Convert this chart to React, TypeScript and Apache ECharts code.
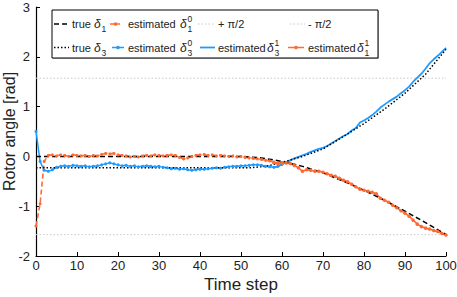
import React, { useEffect, useRef } from "react";
import * as echarts from "echarts";

// ---------- data ----------
const xTicks = [0, 10, 20, 30, 40, 50, 60, 70, 80, 90, 100];
const yTicks = [-2, -1, 0, 1, 2, 3];

// true trajectories: [time step, angle]
const trueD1: number[][] = [
  [0, 0], [50, 0], [55, -0.03], [60, -0.1], [65, -0.2], [70, -0.33], [75, -0.5],
  [80, -0.68], [85, -0.88], [90, -1.1], [95, -1.33], [100, -1.57],
];
const trueD3: number[][] = [
  [0, -0.23], [52, -0.23], [56, -0.2], [60, -0.12], [65, 0.0], [70, 0.15], [75, 0.4],
  [80, 0.66], [85, 0.95], [90, 1.27], [95, 1.65], [100, 2.15],
];

// estimated δ1^0, steps 0..60
const estD1_0Start = 0;
const estD1_0 = [
  -1.4, -0.95, -0.1, 0.02, 0.03, 0.01, 0.03, 0.02, 0.0, 0.03,
  0.02, 0.01, 0.02, 0.0, 0.02, 0.01, 0.04, 0.06, 0.05, 0.06,
  0.03, 0.02, 0.01, -0.01, 0.0, -0.01, 0.01, 0.02, 0.01, 0.03,
  0.02, 0.01, 0.02, 0.03, 0.02, -0.02, -0.05, -0.03, 0.0, 0.02,
  0.03, 0.04, 0.02, 0.03, 0.01, 0.02, 0.01, 0.0, 0.01, -0.01,
  0.0, -0.02, -0.03, -0.04, -0.05, -0.06, -0.08, -0.09, -0.12, -0.15,
  -0.13,
];

// estimated δ3^0, steps 0..60
const estD3_0Start = 0;
const estD3_0 = [
  0.5, -0.1, -0.28, -0.3, -0.27, -0.22, -0.2, -0.19, -0.2, -0.18,
  -0.19, -0.2, -0.19, -0.21, -0.2, -0.19, -0.17, -0.15, -0.13, -0.15,
  -0.17, -0.19, -0.18, -0.2, -0.19, -0.21, -0.2, -0.19, -0.2, -0.21,
  -0.2, -0.22, -0.23, -0.25, -0.24, -0.26, -0.25, -0.27, -0.28, -0.27,
  -0.26, -0.26, -0.25, -0.24, -0.23, -0.24, -0.22, -0.21, -0.2, -0.2,
  -0.19, -0.19, -0.18, -0.17, -0.17, -0.18, -0.2, -0.21, -0.22, -0.2,
  -0.16,
];

// estimated δ3^1, steps 58..100
const estD3_1Start = 58;
const estD3_1 = [
  -0.22, -0.2, -0.16, -0.12, -0.08, -0.04, -0.01, 0.02, 0.05, 0.09,
  0.12, 0.15, 0.17, 0.21, 0.26, 0.31, 0.36, 0.41, 0.45, 0.52,
  0.57, 0.68, 0.72, 0.77, 0.83, 0.9, 0.98, 1.04, 1.1, 1.15,
  1.2, 1.27, 1.33, 1.4, 1.5, 1.58, 1.66, 1.76, 1.87, 1.95,
  2.02, 2.1, 2.18,
];

// estimated δ1^1, steps 58..100
const estD1_1Start = 58;
const estD1_1 = [
  -0.12, -0.14, -0.13, -0.13, -0.14, -0.18, -0.23, -0.3, -0.27, -0.28,
  -0.3, -0.3, -0.32, -0.35, -0.38, -0.4, -0.44, -0.48, -0.51, -0.56,
  -0.61, -0.66, -0.68, -0.7, -0.72, -0.75, -0.84, -0.88, -0.92, -0.98,
  -1.03, -1.09, -1.14, -1.2, -1.28, -1.36, -1.41, -1.44, -1.46, -1.49,
  -1.51, -1.55, -1.58,
];

const halfPi = Math.PI / 2;
const piLinesX = [0, 100];

// ---------- styles ----------
const ORANGE = "#FF6A33";
const BLUE = "#1E9BFF";
const FONT = "Liberation Sans, Arial, Helvetica, sans-serif";
const TXT = "#222";

const toPairs = (start: number, arr: number[]) => arr.map((v, i) => [start + i, v]);

function legendGraphic() {
  const els: any[] = [];
  const r1 = 24;
  const r2 = 47.5;
  const fs = 11;
  const text = (x: number, y: number, s: string, size = fs, italic = false) =>
    els.push({
      type: "text",
      x,
      y,
      style: {
        text: s,
        font: `${italic ? "italic " : ""}${size}px ${FONT}`,
        fill: TXT,
        textVerticalAlign: "middle",
      },
    });
  const seg = (x1: number, x2: number, y: number, color: string, width: number, dash?: number[]) =>
    els.push({
      type: "line",
      shape: { x1, y1: y, x2, y2: y },
      style: { stroke: color, lineWidth: width, lineDash: dash },
    });
  const dot = (x: number, y: number, color: string) =>
    els.push({ type: "circle", shape: { cx: x, cy: y, r: 1.8 }, style: { fill: color } });
  const delta = (x: number, y: number, sub: string, sup?: string) => {
    text(x, y, "δ", 12, true);
    text(x + 7.5, y + 5, sub, 8.5);
    if (sup !== undefined) text(x + 7.5, y - 5, sup, 8.5);
  };

  // box with faint shadow
  els.push({ type: "rect", shape: { x: 53, y: 11, width: 326, height: 48 }, style: { fill: "#bbb" } });
  els.push({
    type: "rect",
    shape: { x: 52, y: 10, width: 326, height: 48 },
    style: { fill: "#fff", stroke: "#000", lineWidth: 1 },
  });

  // row 1
  seg(54, 69, r1, "#000", 1.5, [5, 3]);
  text(72, r1, "true");
  delta(94, r1, "1");
  seg(110, 121, r1, ORANGE, 1.5, [4, 2]);
  dot(115.5, r1, ORANGE);
  text(128, r1, "estimated");
  delta(180, r1, "1", "0");
  seg(198, 215, r1, "#c8c8c8", 1, [1.5, 2]);
  text(218, r1, "+ π/2");
  seg(290, 305, r1, "#c8c8c8", 1, [1.5, 2]);
  text(308, r1, "- π/2");

  // row 2
  seg(54, 69, r2, "#000", 1.5, [1.5, 2]);
  text(72, r2, "true");
  delta(94, r2, "3");
  seg(112, 124, r2, BLUE, 1.5);
  dot(118, r2, BLUE);
  text(128, r2, "estimated");
  delta(180, r2, "3", "0");
  seg(200, 215, r2, BLUE, 1.8);
  text(218, r2, "estimated");
  delta(267, r2, "3", "1");
  seg(288, 304, r2, ORANGE, 1.5);
  dot(296, r2, ORANGE);
  text(308, r2, "estimated");
  delta(357, r2, "1", "1");
  return els;
}

export default function App() {
  const ref = useRef<HTMLDivElement>(null);
  useEffect(() => {
    if (!ref.current) return;
    const chart = echarts.init(ref.current, undefined, { renderer: "svg" });
    const axisLabel = { fontFamily: FONT, fontSize: 13, color: TXT };
    chart.setOption({
      animation: false,
      backgroundColor: "#fff",
      grid: {
        left: 36,
        right: 11,
        top: 7,
        bottom: 41,
        containLabel: false,
        outerBoundsMode: "none",
      },
      xAxis: {
        type: "value",
        min: xTicks[0],
        max: xTicks[xTicks.length - 1],
        interval: 10,
        name: "Time step",
        nameLocation: "middle",
        nameGap: 20,
        nameMoveOverlap: false,
        nameTextStyle: { fontFamily: FONT, fontSize: 17, color: TXT, verticalAlign: "top" },
        axisLine: { onZero: false, lineStyle: { color: "#000", width: 1.2 } },
        axisTick: { inside: true, length: 4, lineStyle: { color: "#000" } },
        axisLabel: { ...axisLabel, margin: 3 },
        splitLine: { show: false },
      },
      yAxis: {
        type: "value",
        min: yTicks[0],
        max: yTicks[yTicks.length - 1],
        interval: 1,
        name: "Rotor angle [rad]",
        nameLocation: "middle",
        nameGap: 19,
        nameMoveOverlap: false,
        nameTextStyle: { fontFamily: FONT, fontSize: 16, color: TXT },
        axisLine: { show: true, onZero: false, lineStyle: { color: "#000", width: 1.2 } },
        axisTick: { show: true, inside: true, length: 4, lineStyle: { color: "#000" } },
        axisLabel: { ...axisLabel, margin: 6 },
        splitLine: { show: false },
      },
      series: [
        {
          name: "+ π/2",
          type: "line",
          data: piLinesX.map((x) => [x, halfPi]),
          showSymbol: false,
          lineStyle: { color: "#c8c8c8", width: 1, type: [1.5, 2] },
        },
        {
          name: "- π/2",
          type: "line",
          data: piLinesX.map((x) => [x, -halfPi]),
          showSymbol: false,
          lineStyle: { color: "#c8c8c8", width: 1, type: [1.5, 2] },
        },
        {
          name: "estimated δ3^0",
          type: "line",
          data: toPairs(estD3_0Start, estD3_0),
          symbol: "circle",
          symbolSize: 3,
          itemStyle: { color: BLUE },
          lineStyle: { color: BLUE, width: 1.5 },
        },
        {
          name: "estimated δ3^1",
          type: "line",
          data: toPairs(estD3_1Start, estD3_1),
          showSymbol: false,
          lineStyle: { color: BLUE, width: 1.8 },
        },
        {
          name: "estimated δ1^0",
          type: "line",
          data: toPairs(estD1_0Start, estD1_0),
          symbol: "circle",
          symbolSize: 3,
          itemStyle: { color: ORANGE },
          lineStyle: { color: ORANGE, width: 1.6, type: [5, 3] },
        },
        {
          name: "estimated δ1^1",
          type: "line",
          data: toPairs(estD1_1Start, estD1_1),
          symbol: "circle",
          symbolSize: 3.5,
          itemStyle: { color: ORANGE },
          lineStyle: { color: ORANGE, width: 1.6 },
        },
        {
          name: "true δ1",
          type: "line",
          data: trueD1,
          showSymbol: false,
          lineStyle: { color: "#000", width: 1.5, type: [5, 3] },
        },
        {
          name: "true δ3",
          type: "line",
          data: trueD3,
          showSymbol: false,
          lineStyle: { color: "#000", width: 1.5, type: [1.5, 2] },
        },
      ],
      graphic: legendGraphic(),
    });
    return () => chart.dispose();
  }, []);
  return (
    <div
      ref={ref}
      style={{ position: "fixed", left: 0, top: 0, width: 457, height: 297, background: "#fff" }}
    />
  );
}
